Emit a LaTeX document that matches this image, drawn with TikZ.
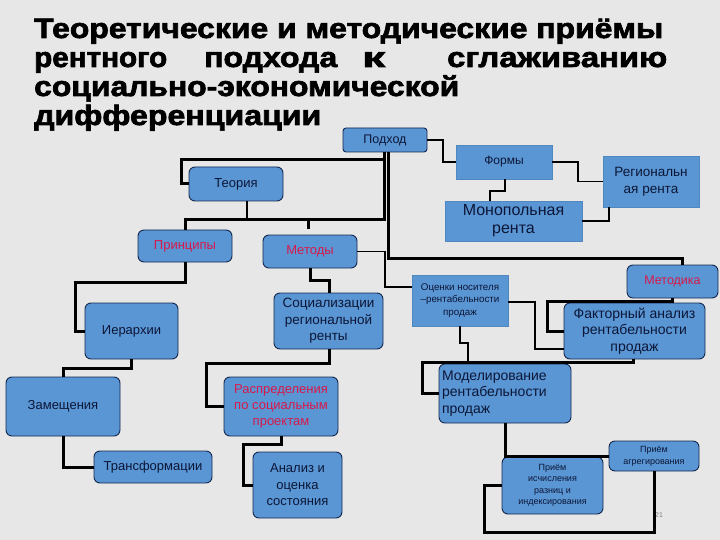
\documentclass[tikz,border=0pt]{standalone}
\usepackage{fontspec}
\setmainfont{Liberation Sans}
\newfontfamily\heavyfont{Liberation Sans}[BoldFeatures={FakeBold=2.2}]
\usepackage{graphicx}
\definecolor{bg}{RGB}{231,231,231}
\definecolor{boxfill}{RGB}{90,150,212}
\definecolor{boxline}{RGB}{20,40,80}
\definecolor{txt}{RGB}{12,22,55}
\definecolor{redtxt}{RGB}{215,25,75}
\newcommand{\fs}[2]{\fontsize{#1}{#2}\selectfont}
\tikzset{
  rbox/.style={draw=boxline, fill=boxfill, rounded corners=6pt, line width=0.9pt, inner sep=1pt, align=center, text=txt},
  sqbox/.style={draw=boxfill!90!black, fill=boxfill, line width=0.5pt, inner sep=1pt, align=center, text=txt},
  thk/.style={line width=3pt, line join=miter, draw=black},
  thn/.style={line width=1.2pt, draw=black},
  ttl/.style={anchor=base west, inner sep=0pt, font=\heavyfont\bfseries\fs{28}{29}, text=black},
}
\begin{document}
\begin{tikzpicture}[x=1pt,y=-1pt]
\fill[bg] (0,0) rectangle (720,540);
\useasboundingbox (0,0) rectangle (720,540);

% title
\node[ttl] (t1) at (34,38) {\resizebox{629pt}{\height}{Теоретические и методические приёмы}};
\node[ttl] (t2) at (34,67) {\resizebox{133pt}{\height}{рентного}\hspace{37pt}\resizebox{133pt}{\height}{подхода}\hspace{25pt}\resizebox{23pt}{\height}{к}\hspace{62pt}\resizebox{220pt}{\height}{сглаживанию}};
\node[ttl] (t3) at (34,96) {\resizebox{425pt}{\height}{социально-экономической}};
\node[ttl] (t4) at (34,125) {\resizebox{287pt}{\height}{дифференциации}};

% nodes
\node[rbox, rounded corners=3pt, minimum width=84, minimum height=24, font=\fs{12.5}{15}] (podhod) at (385,140) {Подход};
\node[rbox, minimum width=94, minimum height=34, font=\fs{13}{16}] (teoria) at (236,184) {Теория};
\node[rbox, minimum width=94, minimum height=32, font=\fs{13}{16}, text=redtxt] (principy) at (185,246) {Принципы};
\node[rbox, minimum width=94, minimum height=33, font=\fs{13}{16}, text=redtxt] (metody) at (310,251.5) {Методы};
\node[sqbox, minimum width=96, minimum height=34, font=\fs{12}{15}] (formy) at (504,162) {Формы};
\node[sqbox, minimum width=96, minimum height=51, font=\fs{13.5}{17}] (region) at (651,181.5) {Региональн\\ая рента};
\node[sqbox, minimum width=137, minimum height=40, font=\fs{16}{18}] (monop) at (513.5,221) {Монопольная\\рента};
\node[rbox, minimum width=91, minimum height=33, font=\fs{12.5}{15}, text=redtxt] (metodika) at (672.5,281.5) {Методика};
\node[rbox, minimum width=93, minimum height=56, font=\fs{13}{16}] (ierarh) at (131.5,331) {Иерархии};
\node[rbox, minimum width=114, minimum height=59, font=\fs{13}{16}] (zamesh) at (63,406.5) {Замещения};
\node[rbox, minimum width=118, minimum height=32, font=\fs{13}{16}] (transf) at (153,467) {Трансформации};
\node[rbox, minimum width=109, minimum height=56, font=\fs{13.5}{16.5}] (social) at (328.5,321) {Социализации\\региональной\\ренты};
\node[rbox, minimum width=114, minimum height=59, font=\fs{13}{16}, text=redtxt] (raspr) at (281,406.5) {Распределения\\по социальным\\проектам};
\node[rbox, minimum width=89, minimum height=66, font=\fs{13}{16.5}] (analiz) at (297.5,485) {Анализ и\\оценка\\состояния};
\node[sqbox, minimum width=96, minimum height=51, font=\fs{9.8}{12.5}] (ocenki) at (460,300.5) {Оценки носителя\\–рентабельности\\продаж};
\node[rbox, minimum width=141, minimum height=56, font=\fs{14}{16.7}] (faktor) at (634.5,331) {Факторный анализ\\рентабельности\\продаж};
\node[rbox, minimum width=132, minimum height=59, font=\fs{14}{16.7}, align=left, text width=126pt] (model) at (505,393.5) {Моделирование\\рентабельности\\продаж};
\node[rbox, minimum width=101, minimum height=57, font=\fs{9}{11.5}] (priemisch) at (552.5,485.5) {Приём\\исчисления\\разниц и\\индексирования};
\node[rbox, minimum width=90, minimum height=30, font=\fs{9}{12}] (priemagr) at (654,456) {Приём\\агрегирования};
\node[font=\fs{7}{8}, text=gray, inner sep=0pt] (pg) at (659,515) {21};

% connectors
\draw[thk] (podhod.south -| 384,0) |- (181,160) |- (teoria.west);
\draw[thk] (podhod.south -| 384,0) |- (principy.north |- 0,220) -- (principy.north);
\draw[thk] (podhod.south -| 388,0) |- (682,258) -- (metodika.north -| 682,0);
\draw[thn] (teoria.south -| 247,0) -- (247,220);
\draw[thk, shorten <=6pt] (metody.north -| 308,0) -- (308,220);
\draw[thn] (podhod.east) -| (443,162) -- (formy.west);
\draw[thn] (formy.east) -| (578,181.5) -- (region.west);
\draw[thn] (formy.south -| 505,0) -- (505,191) -| (monop.north -| 490,0);
\draw[thn] (monop.east) -| (region.south -| 609,0);
\draw[thk] (principy.south) |- (75,282) |- (ierarh.west);
\draw[thk] (ierarh.south) |- (zamesh.north |- 0,368) -- (zamesh.north);
\draw[thk] (zamesh.south) |- (transf.west);
\draw[thk] (metody.south) |- (329,280) -- (social.north -| 329,0);
\draw[thk] (social.south -| 329,0) |- (206,363) |- (raspr.west);
\draw[thk] (raspr.south) |- (243,444) |- (analiz.west);
\draw[thn] (metody.east) -| (385,287) -- (ocenki.west |- 0,287);
\draw[thk] (metodika.south) |- (547,301) |- (faktor.west);
\draw[thn] (ocenki.east |- 0,302) -| (535,349) -- (faktor.west |- 0,349);
\draw[thn] (ocenki.south) |- (468,343) -- (model.north -| 468,0);
\draw[thk] (faktor.south -| 633,0) |- (422,362) |- (model.west);
\draw[thk] (model.south) |- (priemagr.west);
\draw[thk] (priemagr.south) |- (484,532) |- (priemisch.west);
\end{tikzpicture}
\end{document}
